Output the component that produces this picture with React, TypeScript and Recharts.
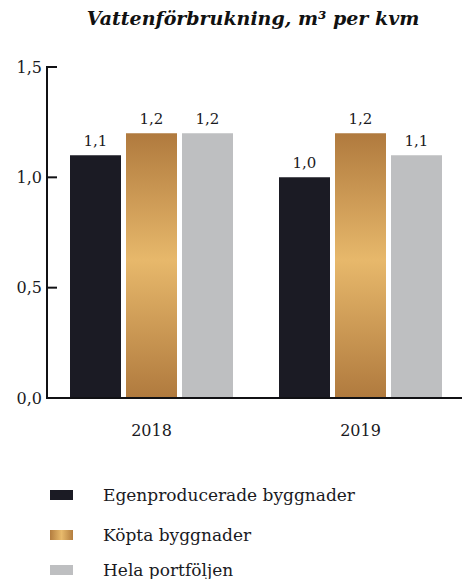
import React from 'react';
import { BarChart, Bar, XAxis, YAxis, LabelList } from 'recharts';

const categories = ['2018', '2019'];
const egenproducerade = [1.1, 1.0];
const koptaByggnader = [1.2, 1.2];
const helaPortfoljen = [1.2, 1.1];
const yTicks = [0, 0.5, 1.0, 1.5];
const seriesNames = ['Egenproducerade byggnader', 'Köpta byggnader', 'Hela portföljen'];
const titleText = 'Vattenförbrukning, m³ per kvm';

const data = categories.map((c, i) => ({
  year: c,
  egen: egenproducerade[i],
  kopta: koptaByggnader[i],
  hela: helaPortfoljen[i],
}));

const FONT = '"DejaVu Serif", Georgia, serif';
const TEXT = '#1a1a1e';
const AXIS = '#111114';
const DARK = '#1b1b24';
const GRAY = '#bebfc1';

const fmt = (v: number) => v.toFixed(1).replace('.', ',');

const YTick = (props: any) => {
  const { x, y, payload } = props;
  const ax = x + 5;
  return (
    <g>
      <line x1={ax - 1} x2={ax + 10} y1={y} y2={y} stroke={AXIS} strokeWidth={2} />
      <text x={x} y={y} dy="0.36em" textAnchor="end" fontFamily={FONT} fontSize={16} fill={TEXT}>
        {fmt(payload.value)}
      </text>
    </g>
  );
};

const legendItems = [
  { name: seriesNames[0], bg: DARK, top: 495 },
  { name: seriesNames[1], bg: 'linear-gradient(to right, #b37d3f 0%, #e8ba6c 50%, #b37d3f 100%)', top: 535 },
  { name: seriesNames[2], bg: GRAY, top: 570 },
];

export default function App() {
  return (
    <div style={{ position: 'fixed', left: 0, top: 0, width: 462, height: 579, overflow: 'hidden', background: '#fff' }}>
      <svg width={0} height={0} style={{ position: 'absolute' }}>
        <defs>
          <linearGradient id="goldGrad" x1="0" y1="0" x2="0" y2="1">
            <stop offset="0%" stopColor="#b07a3e" />
            <stop offset="48%" stopColor="#e7b86b" />
            <stop offset="100%" stopColor="#b07a3e" />
          </linearGradient>
        </defs>
      </svg>
      <div
        style={{
          position: 'absolute',
          left: 253,
          top: 6,
          transform: 'translateX(-50%)',
          whiteSpace: 'nowrap',
          fontFamily: FONT,
          fontWeight: 'bold',
          fontStyle: 'italic',
          fontSize: 19,
          lineHeight: '24px',
          color: '#111',
        }}
      >
        {titleText}
      </div>
      <div style={{ position: 'absolute', left: 0, top: 0 }}>
        <BarChart
          width={470}
          height={579}
          data={data}
          margin={{ top: 67, right: 5, bottom: 141, left: 0 }}
          barCategoryGap={23}
          barGap={5}
        >
          <XAxis
            dataKey="year"
            axisLine={{ stroke: AXIS, strokeWidth: 2 }}
            tickLine={false}
            tickSize={0}
            tickMargin={27}
            height={40}
            tick={{ fontFamily: FONT, fontSize: 16, fill: TEXT }}
          />
          <YAxis
            domain={[0, 1.5]}
            ticks={yTicks}
            width={47}
            axisLine={{ stroke: AXIS, strokeWidth: 2 }}
            tickLine={false}
            tickSize={0}
            tickMargin={5}
            tick={<YTick />}
            interval={0}
          />
          <Bar dataKey="egen" name={seriesNames[0]} fill={DARK} isAnimationActive={false}>
            <LabelList dataKey="egen" position="top" offset={9} formatter={(v: any) => fmt(Number(v))} style={{ fontFamily: FONT, fontSize: 15, fill: TEXT }} />
          </Bar>
          <Bar dataKey="kopta" name={seriesNames[1]} fill="url(#goldGrad)" isAnimationActive={false}>
            <LabelList dataKey="kopta" position="top" offset={9} formatter={(v: any) => fmt(Number(v))} style={{ fontFamily: FONT, fontSize: 15, fill: TEXT }} />
          </Bar>
          <Bar dataKey="hela" name={seriesNames[2]} fill={GRAY} isAnimationActive={false}>
            <LabelList dataKey="hela" position="top" offset={9} formatter={(v: any) => fmt(Number(v))} style={{ fontFamily: FONT, fontSize: 15, fill: TEXT }} />
          </Bar>
        </BarChart>
      </div>
      {legendItems.map((it) => (
        <div key={it.name} style={{ position: 'absolute', left: 0, top: it.top - 12, height: 24, width: 462 }}>
          <div style={{ position: 'absolute', left: 50, top: 7, width: 23, height: 10, background: it.bg }} />
          <div
            style={{
              position: 'absolute',
              left: 103,
              top: 0,
              lineHeight: '24px',
              fontFamily: FONT,
              fontSize: 17,
              color: TEXT,
              whiteSpace: 'nowrap',
            }}
          >
            {it.name}
          </div>
        </div>
      ))}
    </div>
  );
}
